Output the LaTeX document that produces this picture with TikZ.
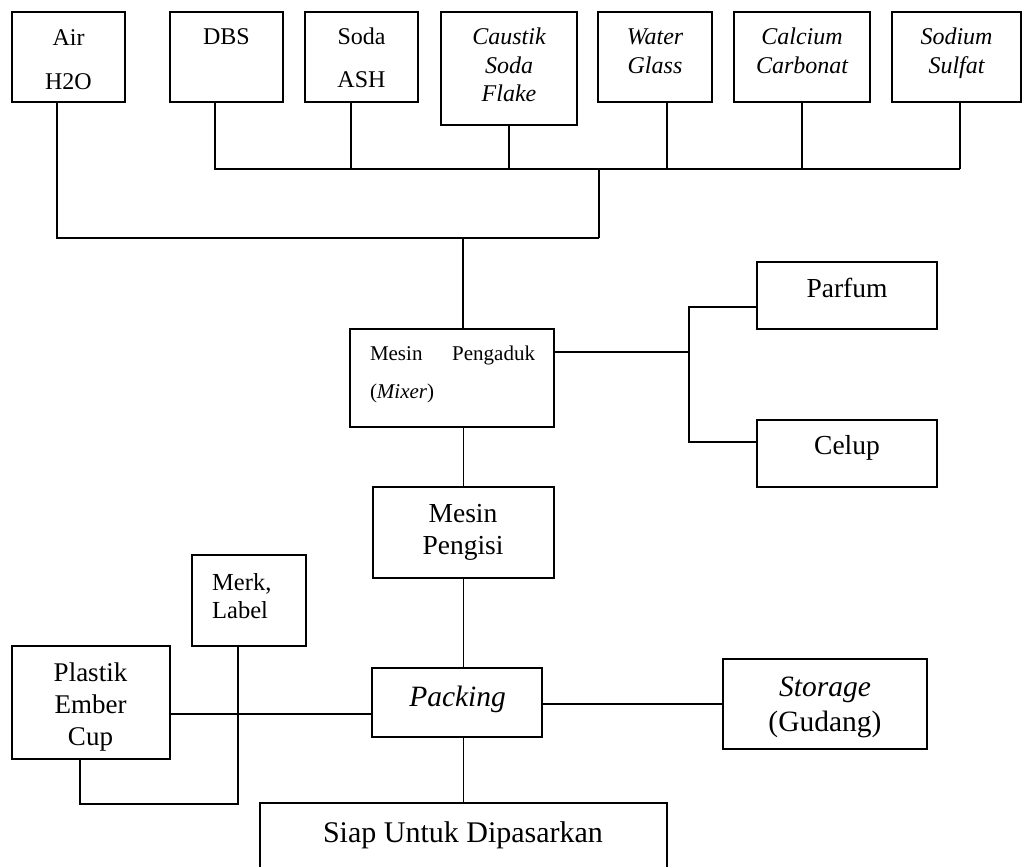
\documentclass[tikz,border=0pt]{standalone}
\usepackage{fontspec}
\setmainfont{Liberation Serif}
\usetikzlibrary{calc}
\tikzset{
  box/.style={draw, line width=1.7pt, inner sep=0pt, outer sep=0pt, rectangle},
  conn/.style={line width=1.7pt},
  lbl/.style={inner sep=0pt, anchor=base, align=center},
  top/.style={lbl, font=\fontsize{24}{28.5}\selectfont, text width=140pt},
  mid/.style={lbl, font=\fontsize{27.5}{31.3}\selectfont},
}
\begin{document}
\begin{tikzpicture}[x=1pt,y=-1pt]
\useasboundingbox (0,0) rectangle (1023,867);
\fill[white] (0,0) rectangle (1023,867);
\clip (0,0) rectangle (1023,867);
% top boxes
\node[box, minimum width=113pt, minimum height=90pt] (air) at (68.5,57) {};
\node[box, minimum width=113pt, minimum height=90pt] (dbs) at (226.5,57) {};
\node[box, minimum width=113pt, minimum height=90pt] (soda) at (361.5,57) {};
\node[box, minimum width=136pt, minimum height=113pt] (caustik) at (509,68.5) {};
\node[box, minimum width=114pt, minimum height=90pt] (water) at (655,57) {};
\node[box, minimum width=136pt, minimum height=90pt] (calcium) at (802,57) {};
\node[box, minimum width=129pt, minimum height=90pt] (sodium) at (956.5,57) {};
\node[top] (airT) at (68.5,46) {Air\\[15pt]H2O};
\node[top] (dbsT) at (226.5,45) {DBS};
\node[top] (sodaT) at (361.5,45) {Soda\\[14pt]ASH};
\node[top] (caustikT) at (509,45) {\itshape Caustik\\Soda\\Flake};
\node[top] (waterT) at (655,45) {\itshape Water\\Glass};
\node[top] (calciumT) at (802,45) {\itshape Calcium\\Carbonat};
\node[top] (sodiumT) at (956.5,45) {\itshape Sodium\\Sulfat};
% middle
\node[box, minimum width=204pt, minimum height=98pt] (mixer) at (452,378) {};
\node[box, minimum width=180pt, minimum height=67pt] (parfum) at (847,295.5) {};
\node[box, minimum width=180pt, minimum height=67pt] (celup) at (847,453.5) {};
\node[box, minimum width=181pt, minimum height=91pt] (pengisi) at (463.5,532.5) {};
\node[lbl, align=left, text width=165pt, font=\fontsize{21}{38}\selectfont] (mixerT) at (452.5,360) {Mesin\hfill Pengaduk\\(\textit{Mixer})};
\node[mid] (parfumT) at (847,297) {Parfum};
\node[mid] (celupT) at (847,454) {Celup};
\node[mid, text width=150pt] (pengisiT) at (463,522.7) {Mesin\\Pengisi};
% bottom
\node[box, minimum width=114pt, minimum height=91pt] (merk) at (249,600.5) {};
\node[box, minimum width=158pt, minimum height=113pt] (plastik) at (91,702.5) {};
\node[box, minimum width=170pt, minimum height=69pt] (packing) at (457,702.5) {};
\node[box, minimum width=204pt, minimum height=90pt] (storage) at (825,704) {};
\node[box, minimum width=407pt, minimum height=84pt] (siap) at (463.5,845) {};
\node[lbl, anchor=base west, align=left, text width=80pt, font=\fontsize{24.5}{28}\selectfont] (merkT) at (212,590) {Merk,\\Label};
\node[mid, text width=150pt, font=\fontsize{27}{31.7}\selectfont] (plastikT) at (90.5,681.7) {Plastik\\Ember\\Cup};
\node[lbl, font=\fontsize{29.5}{35}\selectfont] (packingT) at (457.6,706.7) {\itshape Packing};
\node[lbl, text width=190pt, font=\fontsize{29.5}{35}\selectfont] (storageT) at (825,696.7) {\textit{Storage}\\(Gudang)};
\node[lbl, font=\fontsize{30}{36}\selectfont] (siapT) at (463,842) {Siap Untuk Dipasarkan};
% junction coordinates
\coordinate (b1L) at (215,169);
\coordinate (b1R) at (960,169);
\coordinate (b1J) at (599,169);
\coordinate (sodaJ) at (351,169);
\coordinate (waterJ) at (667,169);
\coordinate (b2L) at (57,238);
\coordinate (b2J) at (599,238);
\coordinate (b2M) at (463,238);
\coordinate (brM) at (689,352);
\coordinate (brT) at (689,307);
\coordinate (brB) at (689,442);
\coordinate (pk) at (238,714);
\coordinate (lb) at (238,804);
\coordinate (lbl) at (80,804);
% connectors
\draw[conn] (dbs.south -| b1L) |- (b1R);
\draw[conn] (sodium.south -| b1R) -- (b1R);
\draw[conn] (soda.south -| sodaJ) -- (sodaJ);
\draw[conn] (caustik.south) -- (caustik.south |- b1L);
\draw[conn] (water.south -| waterJ) -- (waterJ);
\draw[conn] (calcium.south) -- (calcium.south |- b1L);
\draw[conn] (air.south -| b2L) |- (b2J);
\draw[conn] (b1J) -- (b2J);
\draw[conn] (b2M) -- (b2M |- mixer.north);
\draw[conn] (pengisi.north |- mixer.south) -- (pengisi.north);
\draw[conn] (mixer.east |- brM) -- (brM);
\draw[conn] (parfum.west |- brT) -- (brT) -- (brB) -- (celup.west |- brB);
\draw[conn] (pengisi.south) -- (pengisi.south |- packing.north);
\draw[conn] (pengisi.south |- packing.south) -- (pengisi.south |- siap.north);
\draw[conn] (packing.east |- storage.west) -- (storage.west);
\draw[conn] (plastik.east |- pk) -- (packing.west |- pk);
\draw[conn] (merk.south -| lb) -- (lb) -- (lbl) -- (plastik.south -| lbl);
\end{tikzpicture}
\end{document}
